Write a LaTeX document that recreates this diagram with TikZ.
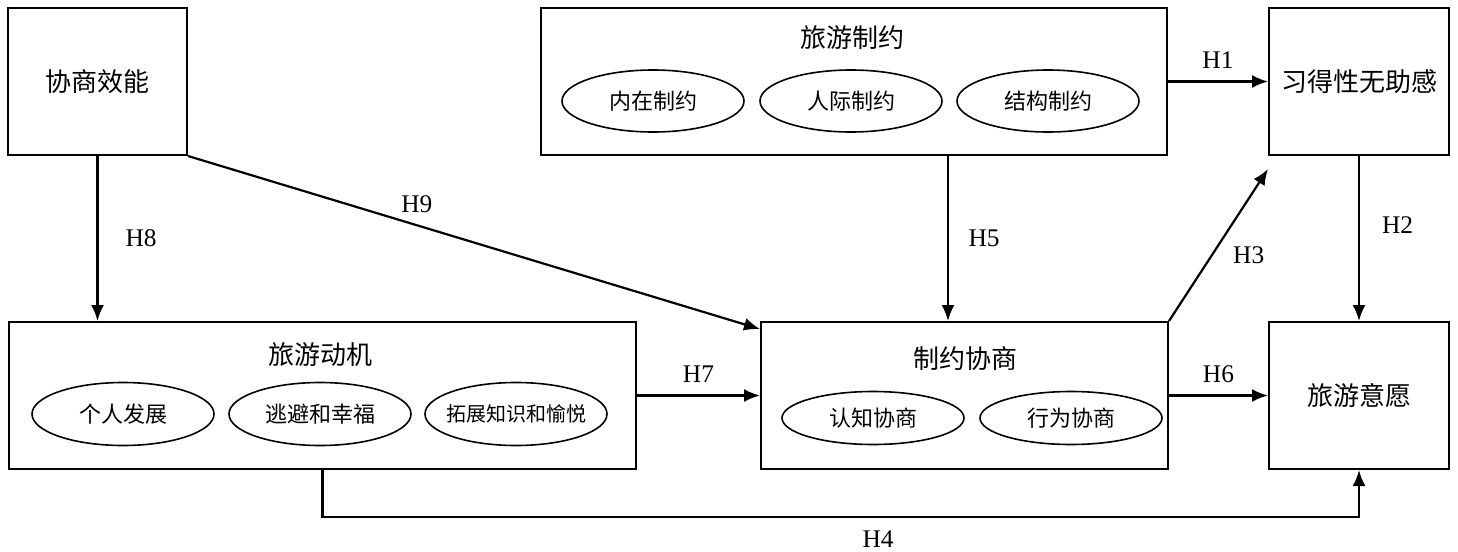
\documentclass[tikz,border=0pt]{standalone}
\usepackage{fontspec}
\setmainfont{Noto Sans CJK SC}
\newfontfamily\hyfont{Liberation Serif}
\usetikzlibrary{arrows.meta}
\usetikzlibrary{shapes.geometric}
\tikzset{
  box/.style={draw, line width=1pt, inner sep=0pt},
  oval/.style={draw, ellipse, line width=0.8pt, minimum width=91pt, minimum height=31pt, inner sep=0pt, font=\fontsize{11}{11}\selectfont},
  title/.style={font=\fontsize{13}{13}\selectfont},
  arr/.style={line width=1.1pt, -{Latex[length=8pt,width=6.5pt]}},
  hyp/.style={font=\hyfont\fontsize{12.7}{12.7}\selectfont, inner sep=0pt},
}

\begin{document}
\begin{tikzpicture}[x=0.5pt, y=-0.5pt]
  \useasboundingbox (0,0) rectangle (1458,552);
  % top row
  \node[box, title, minimum width=89.5pt, minimum height=73.5pt] (eff) at (97.5,81.5) {协商效能};
  \node[box, minimum width=313pt, minimum height=73.5pt] (con) at (854,81.5) {};
  \node[title] (contitle) at (852,38) {旅游制约};
  \node[oval] (c1) at (653,101) {内在制约};
  \node[oval] (c2) at (851,101) {人际制约};
  \node[oval] (c3) at (1048,101) {结构制约};
  \node[box, title, minimum width=90pt, minimum height=73.5pt] (lh) at (1359,81.5) {习得性无助感};
  % bottom row
  \node[box, minimum width=313.5pt, minimum height=73.5pt] (mot) at (322.5,395.5) {};
  \node[title] (mottitle) at (320,355) {旅游动机};
  \node[oval, minimum height=31.5pt] (m1) at (123,414) {个人发展};
  \node[oval, minimum height=31.5pt] (m2) at (320,414) {逃避和幸福};
  \node[oval, minimum height=31.5pt] (m3) at (516,414) {\makebox[0pt]{\fontsize{10}{10}\selectfont 拓展知识和愉悦}};
  \node[box, minimum width=203.5pt, minimum height=73.5pt] (neg) at (964.5,395.5) {};
  \node[title] (negtitle) at (965,359) {制约协商};
  \node[oval, minimum height=26.5pt] (n1) at (873,418) {认知协商};
  \node[oval, minimum height=26.5pt] (n2) at (1071,418) {行为协商};
  \node[box, title, minimum width=90pt, minimum height=73.5pt] (int) at (1359,395.5) {旅游意愿};
  % hypotheses
  \coordinate (h5) at ([xshift=47pt]con.south);
  \draw[arr] (con.east) -- node[hyp, above=5.8pt] {H1} (lh.west);
  \draw[arr] (lh.south) -- node[hyp, right=11pt, yshift=6.75pt] {H2} (int.north);
  \draw[arr] (neg.north east) -- node[hyp, pos=0.435, right=10pt] {H3} ([yshift=-6.5pt]lh.south west);
  \draw[arr] (mot.south) -- ++(0,47) -| node[hyp, pos=0.268, below=6.3pt] {H4} (int.south);
  \draw[arr] (h5) -- node[hyp, right=9.75pt] {H5} (h5 |- neg.north);
  \draw[arr] (neg.east) -- node[hyp, above=5.8pt] {H6} (int.west);
  \draw[arr] (mot.east) -- node[hyp, above=5.8pt] {H7} (neg.west);
  \draw[arr] (eff.south) -- node[hyp, right=13.5pt] {H8} (eff.south |- mot.north);
  \draw[arr] (eff.south east) -- node[hyp, pos=0.4, above=5.5pt] {H9} (neg.162);
\end{tikzpicture}
\end{document}
